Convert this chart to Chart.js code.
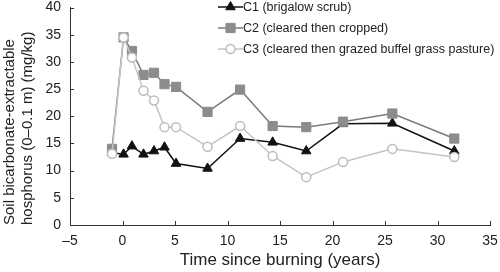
<!DOCTYPE html>
<html>
<head>
<meta charset="utf-8">
<script src="https://cdn.jsdelivr.net/npm/chart.js@4/dist/chart.umd.min.js"></script>
<style>
  html, body { margin: 0; padding: 0; background: #fff; }
  #wrap { width: 500px; height: 272px; }
</style>
</head>
<body>
<div id="wrap"><canvas id="chart" width="500" height="272"></canvas></div>
<script>
// values
const years = [-1, 0.1, 0.9, 2, 3, 4, 5.1, 8.1, 11.2, 14.3, 17.5, 21, 25.7, 31.6];
const c1 = [13.3, 13.0, 14.5, 13.0, 13.6, 14.3, 11.3, 10.4, 15.9, 15.2, 13.6, 18.6, 18.7, 13.6];
const c2 = [14.0, 34.5, 32.0, 27.6, 28.0, 25.9, 25.4, 20.8, 24.9, 18.2, 18.0, 19.0, 20.5, 15.9];
const c3 = [13.1, 34.5, 30.8, 24.7, 22.9, 18.0, 18.0, 14.4, 18.2, 12.7, 8.8, 11.6, 14.0, 12.5];
const seriesLabels = [
  "C1 (brigalow scrub)",
  "C2 (cleared then cropped)",
  "C3 (cleared then grazed buffel grass pasture)"
];
const xTitle = "Time since burning (years)";
const yTitle = ["Soil bicarbonate-extractable", "hosphorus (0\u20130.1 m) (mg/kg)"];

const FONT = "'Liberation Sans', Arial, Helvetica, sans-serif";
const toXY = (vals) => vals.map((v, i) => ({ x: years[i], y: v }));

// inward tick marks, like the original figure
const innerTicks = {
  id: "innerTicks",
  afterDraw(chart) {
    const { ctx, scales: { x, y }, chartArea } = chart;
    ctx.save();
    ctx.strokeStyle = "#333";
    ctx.lineWidth = 1;
    ctx.beginPath();
    x.ticks.forEach(t => {
      const px = Math.round(x.getPixelForValue(t.value)) + 0.5;
      ctx.moveTo(px, chartArea.bottom);
      ctx.lineTo(px, chartArea.bottom - 4);
    });
    y.ticks.forEach(t => {
      const py = Math.round(y.getPixelForValue(t.value)) + 0.5;
      ctx.moveTo(chartArea.left, py);
      ctx.lineTo(chartArea.left + 4, py);
    });
    ctx.stroke();
    ctx.restore();
  }
};

// legend drawn as line + marker + text in the top right corner
const lineLegend = {
  id: "lineLegend",
  afterDraw(chart) {
    const { ctx } = chart;
    ctx.save();
    ctx.font = "12.5px " + FONT;
    ctx.textBaseline = "middle";
    ctx.textAlign = "left";
    chart.data.datasets.forEach((ds, i) => {
      const yy = 7 + i * 21;
      ctx.strokeStyle = ds.borderColor;
      ctx.lineWidth = ds.borderWidth;
      ctx.beginPath();
      ctx.moveTo(218, yy);
      ctx.lineTo(243, yy);
      ctx.stroke();
      ctx.fillStyle = ds.pointBackgroundColor;
      ctx.strokeStyle = ds.pointBorderColor;
      ctx.lineWidth = ds.pointBorderWidth;
      Chart.helpers.drawPoint(ctx, {
        pointStyle: ds.pointStyle,
        radius: ds.pointRadius,
        borderWidth: ds.pointBorderWidth
      }, 230.5, yy);
      ctx.fillStyle = "#222";
      ctx.fillText(ds.label, 243, yy + 1);
    });
    ctx.restore();
  }
};

new Chart(document.getElementById("chart"), {
  type: "line",
  data: {
    datasets: [
      {
        label: seriesLabels[0],
        data: toXY(c1),
        borderColor: "#111",
        borderWidth: 1.5,
        pointStyle: "triangle",
        pointRadius: 5.5,
        pointBackgroundColor: "#111",
        pointBorderColor: "#111",
        pointBorderWidth: 1,
        order: 2
      },
      {
        label: seriesLabels[1],
        data: toXY(c2),
        borderColor: "#7a7a7a",
        borderWidth: 1.5,
        pointStyle: "rect",
        pointRadius: 6.5,
        pointBackgroundColor: "#8c8c8c",
        pointBorderColor: "#8c8c8c",
        pointBorderWidth: 1,
        order: 1
      },
      {
        label: seriesLabels[2],
        data: toXY(c3),
        borderColor: "#c4c4c4",
        borderWidth: 1.5,
        pointStyle: "circle",
        pointRadius: 4.5,
        pointBackgroundColor: "#ffffff",
        pointBorderColor: "#bdbdbd",
        pointBorderWidth: 1.5,
        order: 0
      }
    ]
  },
  options: {
    responsive: false,
    animation: false,
    layout: { padding: { top: 6, right: 10, bottom: 0, left: 0 } },
    plugins: {
      legend: { display: false },
      tooltip: { enabled: false }
    },
    scales: {
      x: {
        type: "linear",
        min: -5,
        max: 35,
        afterFit(s) { s.height = 47; s.paddingLeft = 0; s.paddingRight = 0; },
        grid: { display: false, drawTicks: false },
        border: { display: true, color: "#333", width: 1 },
        ticks: {
          stepSize: 5,
          autoSkip: false,
          maxRotation: 0,
          padding: 8,
          color: "#222",
          font: { family: FONT, size: 14 },
          callback: v => String(v).replace("-", "\u2013")
        },
        title: {
          display: true,
          text: xTitle,
          color: "#222",
          font: { family: FONT, size: 17 },
          padding: { top: 0, bottom: 1 }
        }
      },
      y: {
        min: 0,
        max: 40,
        afterFit(s) { s.width = 70; s.paddingTop = 0; s.paddingBottom = 0; },
        grid: { display: false, drawTicks: false },
        border: { display: true, color: "#333", width: 1 },
        ticks: {
          stepSize: 5,
          autoSkip: false,
          padding: 9,
          color: "#222",
          font: { family: FONT, size: 14 }
        },
        title: {
          display: true,
          text: yTitle,
          align: "start",
          color: "#222",
          font: { family: FONT, size: 15 },
          padding: { top: 1, bottom: 0 }
        }
      }
    }
  },
  plugins: [innerTicks, lineLegend]
});
</script>
</body>
</html>
